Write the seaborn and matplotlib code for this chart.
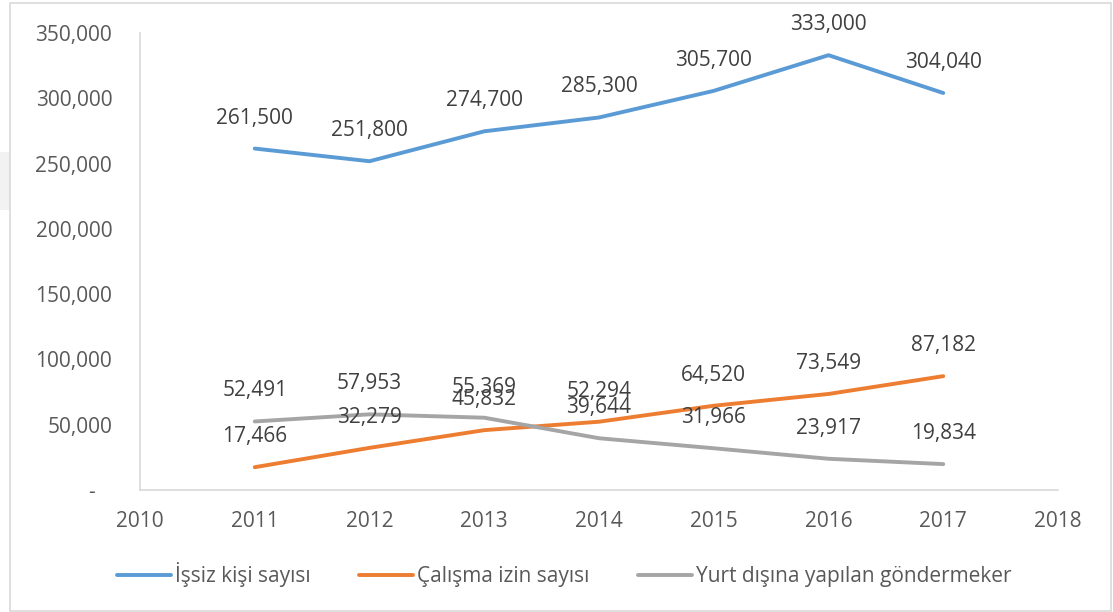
import numpy as np
import pandas as pd
import matplotlib
matplotlib.use("Agg")
import matplotlib.pyplot as plt
import seaborn as sns
from matplotlib.patches import Rectangle
from matplotlib.ticker import FuncFormatter

years = [2011, 2012, 2013, 2014, 2015, 2016, 2017]
issiz = [261500, 251800, 274700, 285300, 305700, 333000, 304040]
calisma_izin = [17466, 32279, 45832, 52294, 64520, 73549, 87182]
yurt_disi = [52491, 57953, 55369, 39644, 31966, 23917, 19834]
series_names = ["İşsiz kişi sayısı", "Çalışma izin sayısı", "Yurt dışına yapılan göndermeker"]
colors = ["#5B9BD5", "#ED7D31", "#A5A5A5"]
x_ticks = list(range(2010, 2019))
y_ticks = list(range(0, 350001, 50000))

sns.set_style("white")
plt.rcParams["font.family"] = ["Open Sans", "DejaVu Sans"]
plt.rcParams["font.size"] = 15

df = pd.DataFrame({
    "yil": years * 3,
    "deger": issiz + calisma_izin + yurt_disi,
    "seri": [series_names[0]] * len(years) + [series_names[1]] * len(years) + [series_names[2]] * len(years),
})

fig = plt.figure(figsize=(11.13, 6.12), dpi=100)
ax = fig.add_axes([140 / 1113, 1 - 490 / 612, (1058 - 140) / 1113, (490 - 33) / 612])

sns.lineplot(data=df, x="yil", y="deger", hue="seri", hue_order=series_names,
             palette=colors, linewidth=2.8, ax=ax, legend=False)

# data labels above each point
for vals in [issiz, calisma_izin, yurt_disi]:
    for x, v in zip(years, vals):
        ax.annotate(f"{v:,}", (x, v), xytext=(0, 22), textcoords="offset points",
                    ha="center", va="center", fontsize=15, color="#404040")

ax.set_xlim(2010, 2018)
ax.set_ylim(0, 350000)
ax.set_xticks(x_ticks)
ax.set_yticks(y_ticks)
ax.yaxis.set_major_formatter(FuncFormatter(lambda v, p: "-   " if v == 0 else f"{int(v):,}"))
ax.tick_params(axis="both", length=0, colors="#595959", labelsize=15)
ax.tick_params(axis="y", pad=20)
ax.tick_params(axis="x", pad=15)
ax.set_xlabel(""); ax.set_ylabel("")
for s in ["top", "right"]:
    ax.spines[s].set_visible(False)
for s in ["left", "bottom"]:
    ax.spines[s].set_color("#D9D9D9")
    ax.spines[s].set_linewidth(1.2)

handles = [plt.Line2D([], [], color=c, lw=2.8) for c in colors]
fig.legend(handles, series_names, loc="center", bbox_to_anchor=(0.507, 0.0605),
           ncol=3, frameon=False, fontsize=15, handlelength=2.6, handletextpad=0.2,
           columnspacing=2.3, labelcolor="#595959")

# chart border + faint block at the left edge
fig.patches.append(Rectangle((0, 1 - 210 / 612), 10 / 1113, 58 / 612, transform=fig.transFigure,
                             facecolor="#F2F2F2", edgecolor="none"))
fig.patches.append(Rectangle((10 / 1113, 1 / 612), 1101 / 1113, 608 / 612, transform=fig.transFigure,
                             fill=False, edgecolor="#D9D9D9", linewidth=1.2))

fig.savefig("out.png", dpi=100)
